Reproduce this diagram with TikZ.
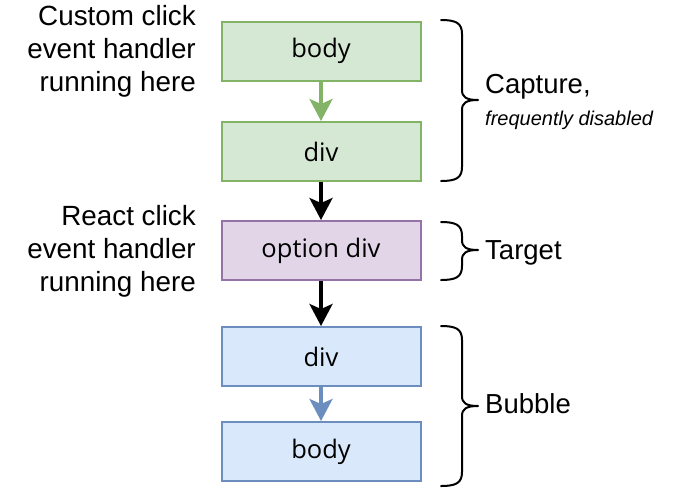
\documentclass[tikz,border=0pt]{standalone}
\usepackage{fontspec}
\setmainfont{Liberation Sans}
\newfontfamily\boxfont{Open Sans}
\usetikzlibrary{arrows.meta}
\definecolor{gfill}{HTML}{D5E8D4}
\definecolor{gline}{HTML}{82B366}
\definecolor{pfill}{HTML}{E1D5E7}
\definecolor{pline}{HTML}{9673A6}
\definecolor{bfill}{HTML}{DAE8FC}
\definecolor{bline}{HTML}{6C8EBF}
\tikzset{
  stagebox/.style={draw, line width=2pt, minimum width=199pt, minimum height=59pt,
    inner sep=0pt, font=\boxfont\fontsize{25.5}{30}\selectfont},
  greenbox/.style={stagebox, fill=gfill, draw=gline},
  purplebox/.style={stagebox, fill=pfill, draw=pline},
  bluebox/.style={stagebox, fill=bfill, draw=bline},
  flow/.style={line width=3.5pt, -{Stealth[length=22pt,width=23pt,inset=5pt]}},
  sidelabel/.style={align=right, anchor=east, inner sep=0pt, font=\fontsize{27.8}{33}\selectfont},
  phase/.style={anchor=base west, inner sep=0pt, font=\fontsize{27.5}{33}\selectfont},
  phasenote/.style={anchor=base west, inner sep=0pt, font=\itshape\fontsize{20}{24}\selectfont},
  curly/.style={line width=2pt, line cap=round, line join=round}
}
\newcommand\drawcurly[3]{% top, mid, bottom
  \draw[curly] (441,#1) .. controls (456,#1) and (462,#1+3) .. (462,#1+14)
    -- (462,#2-10) .. controls (462,#2-3) and (466,#2) .. (478,#2)
    .. controls (466,#2) and (462,#2+3) .. (462,#2+10)
    -- (462,#3-14) .. controls (462,#3-3) and (456,#3) .. (441,#3);}
\begin{document}
\begin{tikzpicture}[x=1pt,y=-1pt]
\useasboundingbox (0,0) rectangle (682,488);
\node[greenbox] (body1) at (321,51) {body};
\node[greenbox] (div1) at (321,151.5) {div};
\node[purplebox] (opt) at (321,250.5) {option div};
\node[bluebox] (div2) at (321,356.5) {div};
\node[bluebox] (body2) at (321,451.5) {body};

\draw[flow, gline] (body1.south) -- (div1.north);
\draw[flow, black] (div1.south) -- (opt.north);
\draw[flow, black] (opt.south) -- (div2.north);
\draw[flow, bline] (div2.south) -- (body2.north);

\node[sidelabel] (lab1) at (196,51) {Custom click\\event handler\\running here};
\node[sidelabel] (lab2) at (196,251) {React click\\event handler\\running here};

\drawcurly{20}{100}{181}
\drawcurly{222}{250}{280}
\drawcurly{326}{406}{486}

\node[phase] (cap) at (485,93) {Capture,};
\node[phasenote] (capnote) at (485,125) {frequently disabled};
\node[phase] (tgt) at (485,259) {Target};
\node[phase] (bub) at (485,413) {Bubble};
\end{tikzpicture}
\end{document}
